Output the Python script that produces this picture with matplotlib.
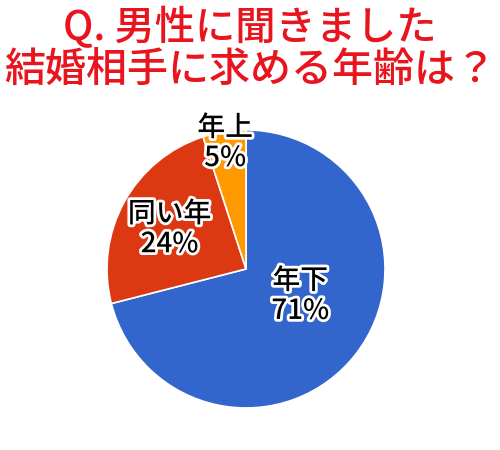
import matplotlib
matplotlib.use("Agg")
import matplotlib.pyplot as plt
import matplotlib.patheffects as pe

plt.rcParams['font.family'] = ['Noto Sans CJK JP', 'DejaVu Sans']

categories = ['年下', '同い年', '年上']
values = [71, 24, 5]
colors = ['#3366CC', '#DC3912', '#FF9900']
title_lines = ['Q. 男性に聞きました', '結婚相手に求める年齢は？']

fig = plt.figure(figsize=(5, 4.5), dpi=100)
fig.patch.set_facecolor('white')

ax = fig.add_axes([0.214, 0.0933, 0.556, 0.618])
wedges, _ = ax.pie(values, colors=colors, startangle=90, counterclock=False,
                   radius=1.0, wedgeprops=dict(edgecolor='white', linewidth=1.2))
ax.set_xlim(-1, 1)
ax.set_ylim(-1, 1)
ax.set_aspect('equal')
ax.axis('off')

label_pos = [(0.39, -0.19), (-0.55, 0.29), (-0.15, 0.91)]
stroke = [pe.withStroke(linewidth=4, foreground='white')]
for cat, v, (x, y) in zip(categories, values, label_pos):
    ax.text(x, y, f'{cat}\n{v}%', ha='center', va='center', fontsize=20,
            fontweight='medium', color='black', linespacing=1.05,
            path_effects=stroke)

fig.text(0.5, 0.937, title_lines[0], ha='center', va='center', fontsize=29,
         fontweight='medium', color='#E8141E')
fig.text(0.5, 0.842, title_lines[1], ha='center', va='center', fontsize=29.5,
         fontweight='medium', color='#E8141E')

fig.savefig('out.png', dpi=100, facecolor='white')
